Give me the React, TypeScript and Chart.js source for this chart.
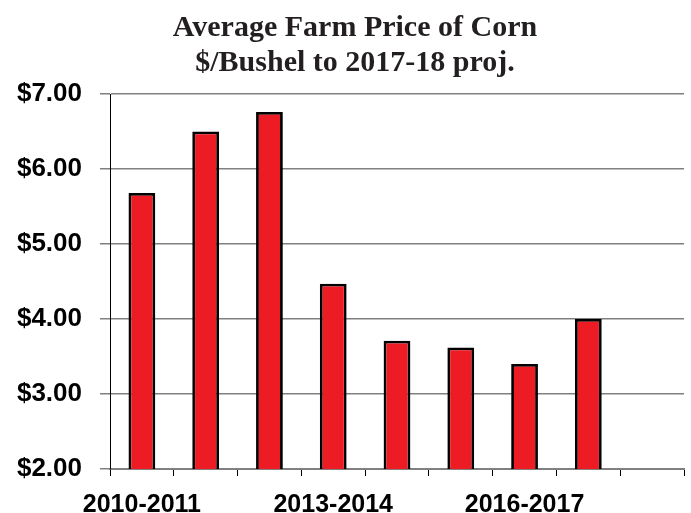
import React, { useEffect, useRef } from "react";
import { Chart, registerables } from "chart.js";

Chart.register(...registerables);

const categories = [
  "2010-2011",
  "2011-2012",
  "2012-2013",
  "2013-2014",
  "2014-2015",
  "2015-2016",
  "2016-2017",
  "2017-2018",
  "",
];
const prices: (number | null)[] = [5.68, 6.5, 6.76, 4.47, 3.71, 3.62, 3.4, 4.0, null];
const titleLines = ["Average Farm Price of Corn", "$/Bushel to 2017-18 proj."];
const yMin = 2;
const yMax = 7;
const labelEvery = 3;

const shiftTitle = {
  id: "shiftTitle",
  afterLayout(chart: any) {
    const t = chart.titleBlock;
    if (t) {
      t.left += 7;
      t.right += 7;
    }
  },
};

export default function App() {
  const ref = useRef<HTMLCanvasElement | null>(null);

  useEffect(() => {
    if (!ref.current) return;
    const chart = new Chart(ref.current, {
      type: "bar",
      data: {
        labels: categories,
        datasets: [
          {
            data: prices,
            backgroundColor: "#ed1c24",
            borderColor: "#000000",
            borderWidth: 2.8,
            borderSkipped: false,
            barPercentage: 0.42,
            categoryPercentage: 1,
          },
        ],
      },
      plugins: [shiftTitle],
      options: {
        responsive: false,
        animation: false,
        devicePixelRatio: 1,
        layout: { padding: { left: 12, right: 7, top: 0, bottom: 0 } },
        plugins: {
          legend: { display: false },
          tooltip: { enabled: false },
          title: {
            display: true,
            text: titleLines,
            color: "#231f20",
            font: { family: "Liberation Serif", size: 30, weight: "bold", lineHeight: 35 / 30 },
            padding: { top: 11, bottom: 13 },
          },
        },
        scales: {
          x: {
            afterFit: (s: any) => {
              s.height = 44;
            },
            grid: {
              display: true,
              offset: true,
              drawOnChartArea: false,
              drawTicks: true,
              tickLength: 7,
              color: "#000000",
              lineWidth: 1,
            },
            border: { display: true, color: "#808080", width: 2 },
            ticks: {
              autoSkip: false,
              maxRotation: 0,
              padding: 14,
              color: "#000000",
              font: { family: "Liberation Sans", size: 25, weight: "bold" },
              callback: (_v: any, i: number) => (i % labelEvery === 0 ? categories[i] : ""),
            },
          },
          y: {
            min: yMin,
            max: yMax,
            afterFit: (s: any) => {
              s.width = 98;
            },
            grid: {
              color: "#808080",
              lineWidth: 1.5,
              tickLength: 10,
              drawTicks: true,
            },
            border: { display: true, color: "#000000", width: 1 },
            ticks: {
              stepSize: 1,
              padding: 18,
              color: "#000000",
              font: { family: "Liberation Sans", size: 26, weight: "bold" },
              callback: (v: any) => "$" + Number(v).toFixed(2),
            },
          },
        },
      },
    });
    return () => chart.destroy();
  }, []);

  return (
    <div style={{ position: "absolute", left: 0, top: 0, width: 691, height: 513, background: "#fff" }}>
      <canvas ref={ref} width={691} height={513} style={{ display: "block" }} />
    </div>
  );
}
